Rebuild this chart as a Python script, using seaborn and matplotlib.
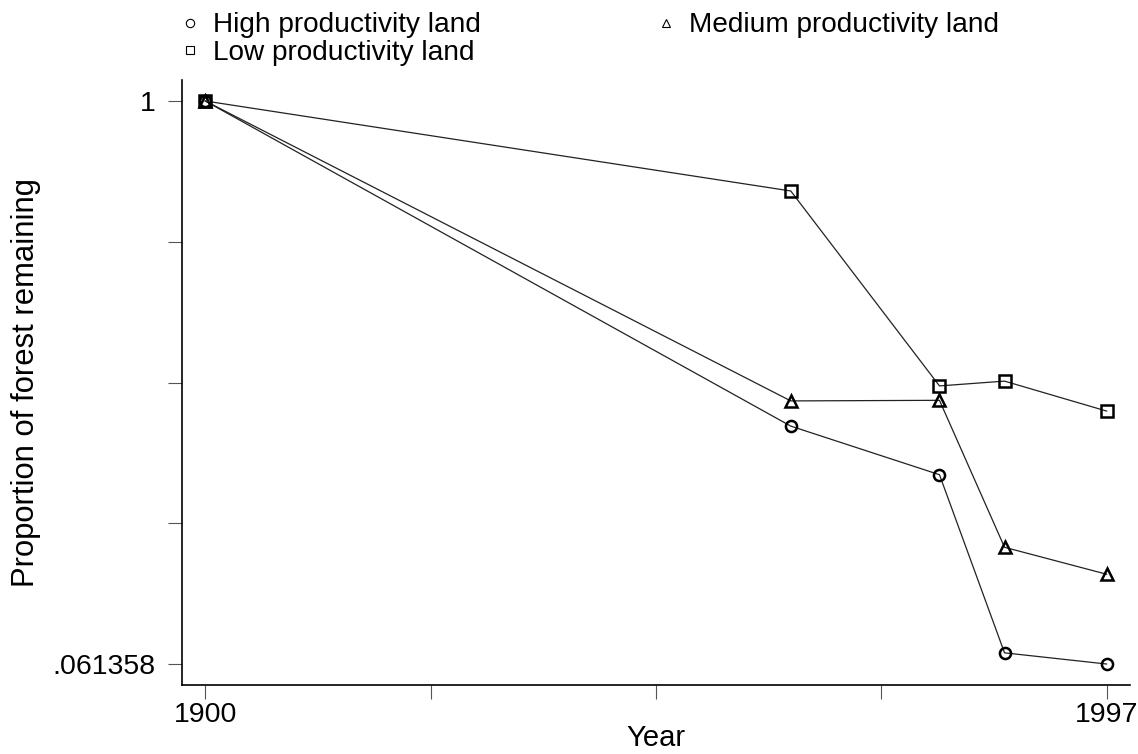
import pandas as pd
import numpy as np
import matplotlib
matplotlib.use("Agg")
import matplotlib.pyplot as plt
from matplotlib.lines import Line2D
import seaborn as sns

# Data
years = [1900, 1963, 1979, 1986, 1997]
high = [1.0, 0.458, 0.377, 0.080, 0.061358]
medium = [1.0, 0.500, 0.501, 0.256, 0.211]
low = [1.0, 0.850, 0.525, 0.533, 0.483]
series_names = ["High productivity land", "Medium productivity land", "Low productivity land"]

df = pd.DataFrame({
    "Year": years * 3,
    "value": high + medium + low,
    "land": [series_names[0]] * 5 + [series_names[1]] * 5 + [series_names[2]] * 5,
})

sns.set_style("white")
plt.rcParams["font.family"] = ["Liberation Sans", "DejaVu Sans"]
plt.rcParams["text.color"] = "black"
plt.rcParams["axes.labelcolor"] = "black"
plt.rcParams["xtick.color"] = "black"
plt.rcParams["ytick.color"] = "black"

fig = plt.figure(figsize=(11.38, 7.54), dpi=100)
ax = fig.add_axes([182 / 1138, 1 - 685 / 754, (1130 - 182) / 1138, (685 - 80) / 754])

markers = {series_names[0]: "o", series_names[1]: "^", series_names[2]: "s"}
sns.lineplot(data=df, x="Year", y="value", style="land", markers=markers, dashes=False,
             color="#222222", linewidth=0.9, markersize=8, markerfacecolor="none",
             markeredgecolor="black", markeredgewidth=1.8, legend=False, ax=ax)

ymin, ymax = 0.061358, 1.0
ax.set_xlim(1897.5, 1999.5)
ax.set_ylim(0.0264, 1.035)
ax.set_xticks(np.linspace(1900, 1997, 5))
ax.set_xticklabels(["1900", "", "", "", "1997"])
ax.set_yticks(np.linspace(ymin, ymax, 5))
ax.set_yticklabels([".061358", "", "", "", "1"])

for s in ["top", "right"]:
    ax.spines[s].set_visible(False)
for s in ["left", "bottom"]:
    ax.spines[s].set_color("black")
    ax.spines[s].set_linewidth(1.2)

ax.tick_params(axis="both", bottom=True, left=True, direction="out", length=10,
               width=0.8, color="#555555", labelsize=20.5)
ax.tick_params(axis="x", pad=2)
ax.tick_params(axis="y", pad=9)
ax.set_xlabel("Year", fontsize=21, labelpad=-3)
ax.set_ylabel("Proportion of forest remaining", fontsize=22.3, labelpad=8)

# Legend at the top
order = [series_names[0], series_names[2], series_names[1]]
handles = [Line2D([], [], linestyle="none", marker=markers[n], markersize=6,
                  markerfacecolor="none", markeredgecolor="black", markeredgewidth=0.8)
           for n in order]
fig.legend(handles, order, loc="upper left", bbox_to_anchor=(182 / 1138, 1 - 12.5 / 754),
           ncol=2, frameon=False, fontsize=20.2, handletextpad=0.51, columnspacing=6.3,
           labelspacing=0.05, handlelength=0.6, borderaxespad=0.0, borderpad=0.0)

fig.savefig("out.png", dpi=100)
